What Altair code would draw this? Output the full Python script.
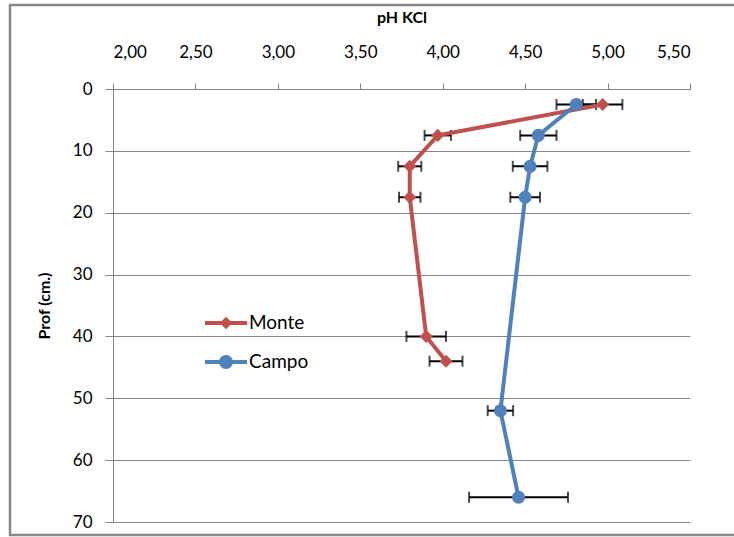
import altair as alt
import pandas as pd

# ---- data ----
series_names = ["Monte", "Campo"]
series_colors = ["#C0504D", "#4F81BD"]

monte_depth = [2.5, 7.5, 12.5, 17.5, 40, 44]
monte_ph = [4.97, 3.97, 3.80, 3.80, 3.90, 4.02]
monte_err = [0.12, 0.08, 0.07, 0.065, 0.12, 0.10]

campo_depth = [2.5, 7.5, 12.5, 17.5, 52, 66]
campo_ph = [4.81, 4.58, 4.53, 4.50, 4.35, 4.46]
campo_err = [0.12, 0.11, 0.105, 0.09, 0.077, 0.30]

x_ticks = [2.0, 2.5, 3.0, 3.5, 4.0, 4.5, 5.0, 5.5]
y_ticks = [0, 10, 20, 30, 40, 50, 60, 70]

rows = []
for name, dep, ph, err in [("Monte", monte_depth, monte_ph, monte_err),
                           ("Campo", campo_depth, campo_ph, campo_err)]:
    for i, (d, p, e) in enumerate(zip(dep, ph, err)):
        rows.append({"series": name, "order": i, "depth": d, "ph": p,
                     "lo": p - e, "hi": p + e})
df = pd.DataFrame(rows)

FONT = "Lato"
GRID = "#868686"

x_scale = alt.Scale(domain=[2.0, 5.5], nice=False, zero=False)
y_scale = alt.Scale(domain=[0, 70], reverse=True, nice=False, zero=False)

x_enc = alt.X("ph:Q", scale=x_scale, axis=alt.Axis(
    orient="top", title="pH KCl", values=x_ticks,
    labelExpr="replace(format(datum.value, '.2f'), '.', ',')",
    grid=False, domain=True, domainColor=GRID, tickColor=GRID, tickSize=6,
    labelPadding=22, labelFontSize=17, labelFont=FONT, labelColor="#000",
    titleFont=FONT, titleFontSize=16, titleFontWeight="bold", titleColor="#000",
    titlePadding=18))
y_enc = alt.Y("depth:Q", scale=y_scale, axis=alt.Axis(
    title="Prof (cm.)", values=y_ticks, grid=True, gridColor=GRID, gridOpacity=1,
    domain=True, domainColor=GRID, tickColor=GRID, tickSize=8,
    labelPadding=13, labelFontSize=17, labelFont=FONT, labelColor="#000",
    titleFont=FONT, titleFontSize=16, titleFontWeight="bold", titleColor="#000",
    titlePadding=20))

base = alt.Chart(df)

# outer chart frame (decoration)
frame = alt.Chart(pd.DataFrame({"a": [0]})).mark_rect(
    fill=None, stroke="#898989", strokeWidth=2.5).encode(
    x=alt.value(-103), x2=alt.value(700), y=alt.value(-84), y2=alt.value(446))

err_rule = base.mark_rule(color="black", strokeWidth=2).encode(
    x=alt.X("lo:Q", scale=x_scale), x2="hi:Q", y=alt.Y("depth:Q", scale=y_scale))
cap_lo = base.mark_tick(color="black", orient="vertical", size=11, thickness=2).encode(
    x=alt.X("lo:Q", scale=x_scale), y=alt.Y("depth:Q", scale=y_scale))
cap_hi = base.mark_tick(color="black", orient="vertical", size=11, thickness=2).encode(
    x=alt.X("hi:Q", scale=x_scale), y=alt.Y("depth:Q", scale=y_scale))


def series_layers(name, color, shape, size):
    sub = base.transform_filter(alt.datum.series == name)
    line = sub.mark_line(strokeWidth=4, color=color).encode(
        x=x_enc, y=y_enc, order="order:Q")
    pts = sub.mark_point(filled=True, shape=shape, size=size, opacity=1,
                         color=color).encode(
        x=alt.X("ph:Q", scale=x_scale), y=alt.Y("depth:Q", scale=y_scale))
    return line + pts

monte = series_layers("Monte", series_colors[0], "diamond", 170)
campo = series_layers("Campo", series_colors[1], "circle", 170)

# legend: line with marker, built as custom symbol paths
color_scale = alt.Scale(domain=series_names, range=series_colors)
path_monte = ("M-1,-0.1H-0.2V0.1H-1Z M0.2,-0.1H1V0.1H0.2Z "
              "M0,-0.3L0.3,0L0,0.3L-0.3,0Z")
path_campo = ("M-1,-0.1H-0.2V0.1H-1Z M0.2,-0.1H1V0.1H0.2Z "
              "M0,-0.33A0.33,0.33,0,1,1,0,0.33A0.33,0.33,0,1,1,0,-0.33Z")
leg_props = dict(title=None, orient="none", legendX=92, legendY=213,
                 symbolSize=1764, symbolStrokeWidth=0, labelFont=FONT,
                 labelFontSize=19, labelColor="#000", labelOffset=2,
                 rowPadding=8, symbolOpacity=1)
legend_layer = base.mark_point(filled=True).encode(
    x=alt.X("ph:Q", scale=x_scale), y=alt.Y("depth:Q", scale=y_scale),
    opacity=alt.value(0),
    color=alt.Color("series:N", scale=color_scale, legend=alt.Legend(**leg_props)),
    shape=alt.Shape("series:N", scale=alt.Scale(domain=series_names,
                                                range=[path_monte, path_campo]),
                    legend=alt.Legend(**leg_props))
)

chart = alt.layer(frame, err_rule, cap_lo, cap_hi, monte, campo, legend_layer).properties(
    width=577, height=433,
    padding={"left": 113, "top": 89, "right": 44, "bottom": 15},
    autosize=alt.AutoSizeParams(type="none"),
    background="white",
).configure_view(stroke=None)

chart.save("out.html", embed_options={"renderer": "svg", "actions": False})
